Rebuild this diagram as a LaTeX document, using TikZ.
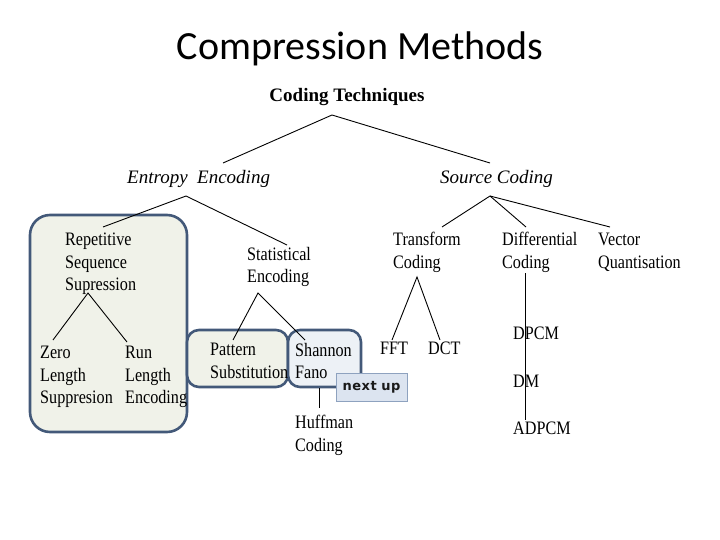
\documentclass[tikz,border=0pt]{standalone}
\usepackage{fontspec}
\setmainfont{Liberation Serif}
\newfontfamily\treefont{Liberation Serif}[FakeStretch=0.85]
\newfontfamily\titlefont{Carlito}
\newfontfamily\tagfont{DejaVu Sans}
\usetikzlibrary{calc}
\definecolor{frame}{HTML}{435979}
\definecolor{paleG}{HTML}{F0F2E9}
\definecolor{paleB}{HTML}{EDF1F6}
\definecolor{tagfill}{HTML}{DCE4F0}
\definecolor{tagline}{HTML}{8EA2BF}
\tikzset{
  lab/.style={font=\treefont\fontsize{19}{22.5}\selectfont, align=left, inner sep=0pt, anchor=north west},
  labb/.style={font=\bfseries\fontsize{19}{22.5}\selectfont, inner sep=0pt, anchor=north},
  labi/.style={font=\itshape\fontsize{19}{22.5}\selectfont, inner sep=0pt, anchor=north west},
  link/.style={draw=black, line width=0.9pt},
  group/.style={draw=frame, line width=2.6pt},
  tagbox/.style={draw=tagline, fill=tagfill, line width=1pt, minimum width=71pt, minimum height=28pt,
    font=\tagfont\bfseries\fontsize{13}{15}\selectfont, text=black!90}
}

\begin{document}
\begin{tikzpicture}[x=1pt,y=-1pt]
  \useasboundingbox (0,0) rectangle (720,540);
  \node[font=\titlefont\fontsize{40}{44}\selectfont, anchor=base] (title) at (360,60) {Compression Methods};

  % grouping frames
  \draw[group, fill=paleG, rounded corners=20pt] (30,215) rectangle (187,432);
  \draw[group, fill=paleG, rounded corners=12pt] (187,330) rectangle (288,387);
  \draw[group, fill=paleB, rounded corners=12pt] (288,330) rectangle (361,387);

  \node[labb] (root) at (347,88) {Coding Techniques};
  \node[labi] (ent) at (127,170) {Entropy\ \ Encoding};
  \node[labi] (src) at (440,170) {Source Coding};

  \node[lab] (rep) at (65,233) {Repetitive\\Sequence\\Supression};
  \node[lab] (stat) at (247,247) {Statistical\\Encoding};
  \node[lab] (zero) at (40,346) {Zero\\Length\\Suppresion};
  \node[lab] (run) at (125,346) {Run\\Length\\Encoding};
  \node[lab] (pat) at (210,343) {Pattern\\Substitution};
  \node[lab] (shan) at (295,343) {Shannon\\Fano};
  \node[lab] (huff) at (295,415) {Huffman\\Coding};

  \node[lab] (trans) at (393,232) {Transform\\Coding};
  \node[lab] (diff) at (502,232) {Differential\\Coding};
  \node[lab] (vec) at (598,233) {Vector\\Quantisation};
  \node[lab] (fft) at (380,342) {FFT};
  \node[lab] (dct) at (428,342) {DCT};
  \node[lab] (dpcm) at (513,327) {DPCM};
  \node[lab] (dm) at (513,375) {DM};
  \node[lab] (adpcm) at (513,422) {ADPCM};

  % tree links
  \draw[link] ($(ent.north west)+(96,-7)$) -- ($(root.north)+(-15,27)$) -- ($(src.north west)+(50,-7)$);
  \draw[link] ($(rep.north west)+(38,-6)$) -- ($(ent.north west)+(59,26)$) -- ($(stat.north west)+(40,-2)$);
  \draw[link] ($(zero.north west)+(13,-6)$) -- ($(rep.north west)+(23,60)$) -- ($(run.north west)+(2,-4)$);
  \draw[link] ($(pat.north west)+(23,-3)$) -- ($(stat.north west)+(11,46)$) -- ($(shan.north west)+(10,-3)$);
  \draw[link] ($(shan.north west)+(24,45)$) -- ($(huff.north west)+(24,-7)$);
  \draw[link] ($(trans.north west)+(49,-5)$) -- ($(src.north west)+(50,26)$) -- ($(vec.north west)+(12,-6)$);
  \draw[link] ($(src.north west)+(50,26)$) -- ($(diff.north west)+(24,-5)$);
  \draw[link] ($(fft.north west)+(12,-2)$) -- ($(trans.north west)+(24,45)$) -- ($(dct.north west)+(12,-2)$);
  \draw[link] ($(diff.north west)+(23,41)$) -- ($(adpcm.north west)+(12,-2)$);

  \node[tagbox] (next) at (371.5,387) {n\kern0.5pt e\kern0.5pt x\kern0.5pt t u\kern0.5pt p};
\end{tikzpicture}
\end{document}
